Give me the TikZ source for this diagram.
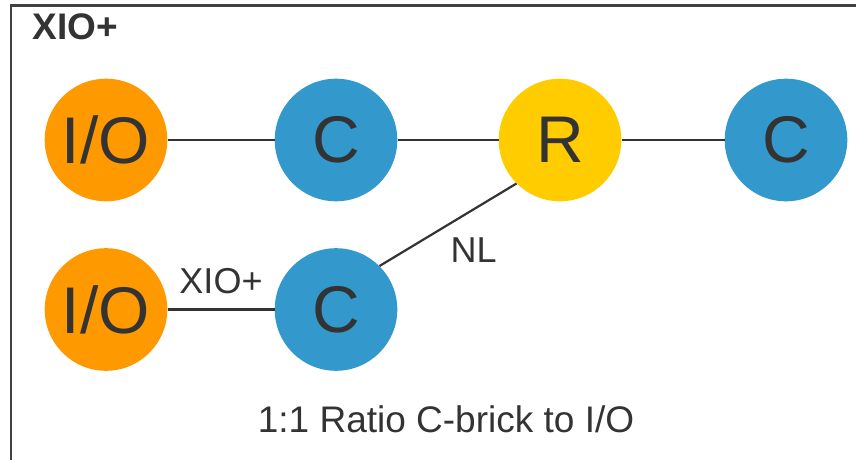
\documentclass[tikz,border=0pt]{standalone}
\usepackage{fontspec}
\setmainfont{Liberation Sans}
\usepackage{xcolor}
\definecolor{xioOrange}{RGB}{255, 153, 0}
\definecolor{xioBlue}{RGB}{51, 153, 204}
\definecolor{xioYellow}{RGB}{255, 204, 0}
\definecolor{xioDark}{RGB}{51, 51, 51}
\definecolor{xioFrame}{RGB}{64, 64, 64}
\usepackage{tikz}
\usetikzlibrary{
    positioning
}

\begin{document}
\begin{tikzpicture}[
    x=1pt, y=-1pt,
    brick/.style={
        circle, draw=none,
        text=xioDark, inner sep=0pt,
        minimum size=122.6pt,
        font=\fontsize{66}{66}\selectfont
    },
    ioBrick/.style={brick, fill=xioOrange},
    cBrick/.style={brick, fill=xioBlue},
    rBrick/.style={brick, fill=xioYellow},
    link/.style={
        line width=2.2pt, draw=xioDark
    },
    linkLabel/.style={
        font=\fontsize{36}{36}\selectfont, text=xioDark, inner sep=0pt
    }
]

    % Canvas and frame
    \clip (0, 0) rectangle (856, 460);
    \draw[xioFrame, line width=2.5pt] (11, 5.5) rectangle (900, 500);
    \node[anchor=base west, inner sep=0pt, text=xioDark, font=\fontsize{37}{37}\selectfont\bfseries] (title) at (32.5, 40) {XIO+};

    % Top row
    \node[ioBrick] (ioTop) at (106, 140) {I/O};
    \node[cBrick] (cTop) at (336, 140) {C};
    \node[rBrick] (router) at (560, 140) {R};
    \node[cBrick] (cRight) at (786, 140) {C};

    % Bottom row
    \node[ioBrick] (ioBot) at (106, 309.5) {I/O};
    \node[cBrick] (cBot) at (336, 309.5) {C};

    % Links
    \draw[link] (ioTop) -- (cTop);
    \draw[link] (cTop) -- (router);
    \draw[link] (router) -- (cRight);
    \draw[link] (ioBot) -- node[linkLabel, above=14.5pt] (xioLabel) {XIO+} (cBot);
    \draw[link] (cBot.north east) -- node[linkLabel, anchor=north west, xshift=1.5pt, yshift=-12pt] (nlLabel) {NL} (router.south west);

    % Caption
    \node[anchor=base, inner sep=0pt, text=xioDark, font=\fontsize{37}{37}\selectfont] (caption) at (446, 432) {1:1 Ratio C-brick to I/O};

\end{tikzpicture}
\end{document}
